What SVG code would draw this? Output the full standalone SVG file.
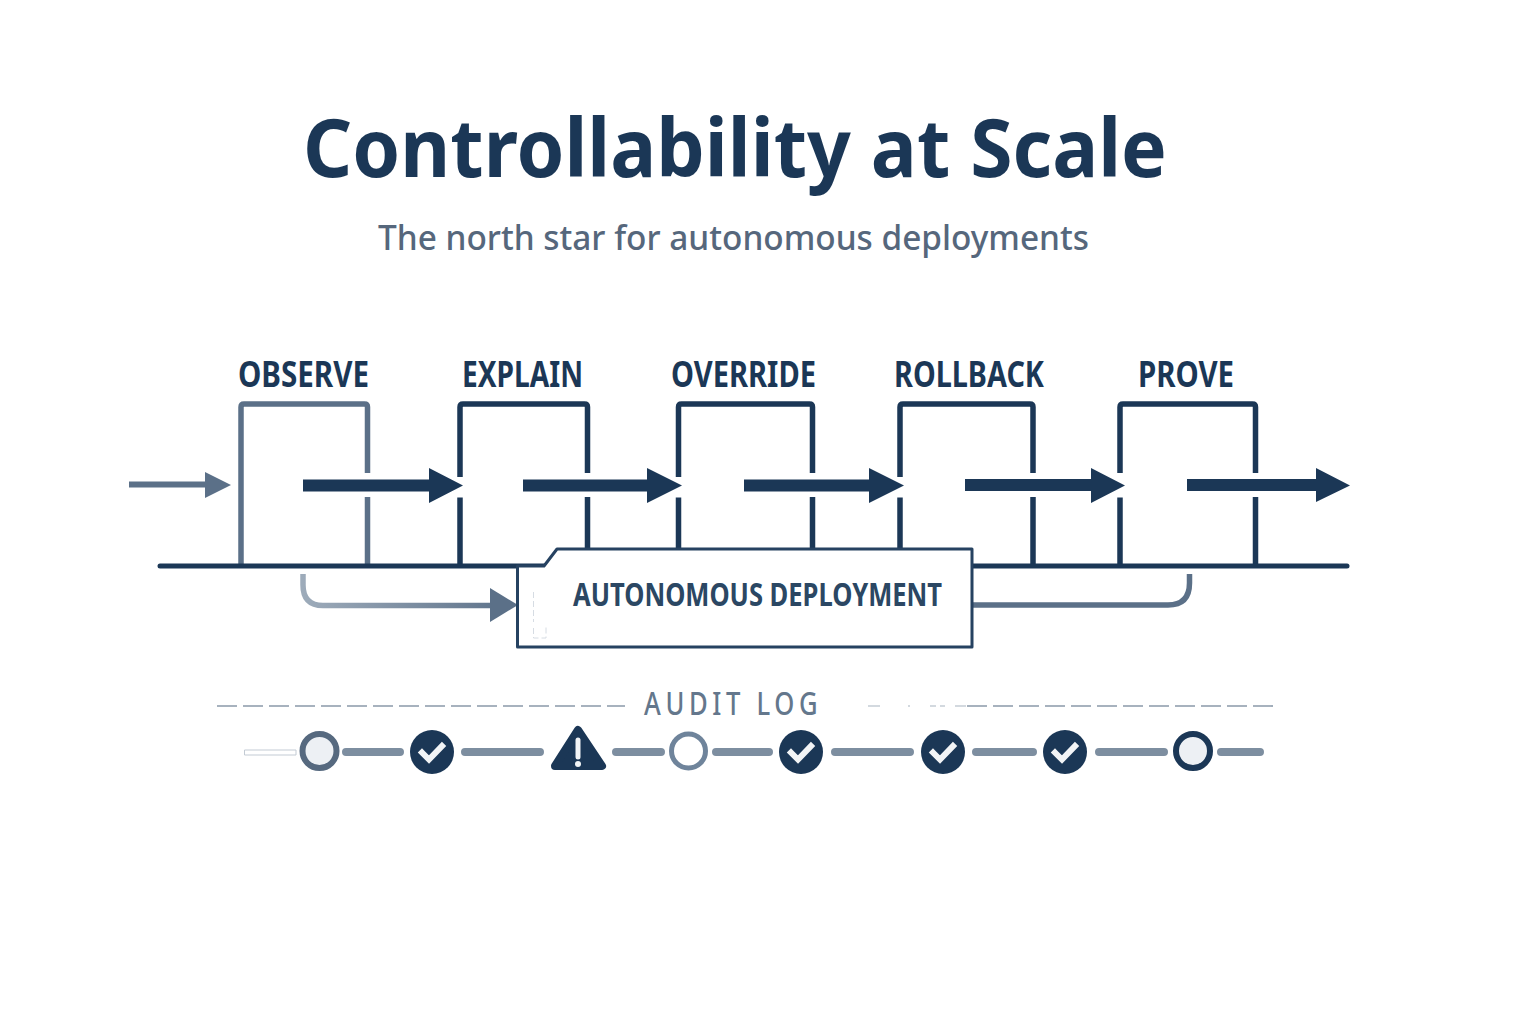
<svg xmlns="http://www.w3.org/2000/svg" width="1536" height="1024" viewBox="0 0 1536 1024">
<style>
text{font-family:"Noto Sans","Open Sans","Liberation Sans",sans-serif}
.title{font-size:81px;font-weight:700;fill:#1b3756}
.sub{font-size:35px;font-weight:500;fill:#56677c}
.lab{font-size:36px;font-weight:700;fill:#1b3756}
.dep{font-size:32px;font-weight:700;fill:#2b4763}
.aud{font-size:32px;font-weight:500;fill:#64778c}
.box{fill:none;stroke:#1b3756;stroke-width:5.500;stroke-linejoin:round}
.obs{stroke:#5b7088}
.shaft{fill:#1b3756}
.seg{stroke:#7d8ea0;stroke-width:8;stroke-linecap:round;fill:none}
.dash{stroke:#8a99a9;stroke-width:1.600;stroke-dasharray:20 6;fill:none}
.chk{fill:#1b3756}
.tick{fill:none;stroke:#f2f4f6;stroke-width:6;stroke-linecap:square;stroke-linejoin:miter}
</style>
<defs>
<linearGradient id="lg" gradientUnits="userSpaceOnUse" x1="303" y1="0" x2="520" y2="0"><stop offset="0" stop-color="#9dabba"/><stop offset="1" stop-color="#5b7088"/></linearGradient>
<g id="check"><circle r="22" class="chk"/><path class="tick" d="M-10 0.500L-3 7.500L10 -6"/></g>
</defs>
<text class="title" x="303" y="177" textLength="864" lengthAdjust="spacingAndGlyphs">Controllability at Scale</text>
<text class="sub" x="378" y="250" textLength="711" lengthAdjust="spacingAndGlyphs">The north star for autonomous deployments</text>
<g id="node-observe"><path class="box obs" d="M241 566V407Q241 404 244 404H364.500Q367.500 404 367.500 407V473M367.500 497V566"/><text class="lab" x="238" y="387" textLength="131" lengthAdjust="spacingAndGlyphs">OBSERVE</text></g>
<g id="node-explain"><path class="box" d="M460 477V407Q460 404 463 404H584.500Q587.500 404 587.500 407V473M587.500 497V566M460 497.500V566"/><text class="lab" x="462" y="387" textLength="121" lengthAdjust="spacingAndGlyphs">EXPLAIN</text></g>
<g id="node-override"><path class="box" d="M678.500 477V407Q678.500 404 681.500 404H809.500Q812.500 404 812.500 407V473M812.500 497V566M678.500 497.500V566"/><text class="lab" x="671" y="387" textLength="145" lengthAdjust="spacingAndGlyphs">OVERRIDE</text></g>
<g id="node-rollback"><path class="box" d="M900 477V407Q900 404 903 404H1030Q1033 404 1033 407V473M1033 497V566M900 497.500V566"/><text class="lab" x="894" y="387" textLength="150" lengthAdjust="spacingAndGlyphs">ROLLBACK</text></g>
<g id="node-prove"><path class="box" d="M1120 473V407Q1120 404 1123 404H1252.500Q1255.500 404 1255.500 407V473M1255.500 497V566M1120 497.500V566"/><text class="lab" x="1138" y="387" textLength="96" lengthAdjust="spacingAndGlyphs">PROVE</text></g>
<g id="connectors">
<path d="M160 566H1347" stroke="#1b3756" stroke-width="5" stroke-linecap="round" fill="none"/>
<path d="M129 481.500H205V472L231 485L205 498V487.500H129Z" fill="#5b7088"/>
<path class="shaft" d="M303 479.500H429V468L463 485.500L429 503V491.500H303Z"/>
<path class="shaft" d="M523 479.500H647V468L682 485.500L647 503V491.500H523Z"/>
<path class="shaft" d="M744 479.500H869V468L904 485.500L869 503V491.500H744Z"/>
<path class="shaft" d="M965 479H1091V468L1125 485.500L1091 503V491H965Z"/>
<path class="shaft" d="M1187 479H1316V468L1350 485.500L1316 502V491H1187Z"/>
<path d="M303 574V585Q303 605.500 323 605.500H495" fill="none" stroke="url(#lg)" stroke-width="5.500"/>
<path d="M490 588L518 605L490 622Z" fill="#5b7088"/>
<path d="M973 605H1168Q1189.500 605 1189.500 583V574" fill="none" stroke="#5b7088" stroke-width="5.500"/>
</g>
<g id="node-deployment">
<path d="M517.500 647V566H544L557 549H972V647Z" fill="#fff" stroke="#264261" stroke-width="3" stroke-linejoin="round"/>
<path d="M533.500 592V622M533.500 628V638H546V627" fill="none" stroke="#d6dce3" stroke-width="1" stroke-dasharray="6 3"/>
<text class="dep" x="573" y="606" textLength="369" lengthAdjust="spacingAndGlyphs">AUTONOMOUS DEPLOYMENT</text>
</g>
<g id="audit-log">
<path class="dash" d="M217 706H625"/>
<path class="dash" d="M967 706H1277"/>
<path d="M868 706H880M908 706H910M930 706H936M940 706H945M955 706H966" stroke="#a8b4c0" stroke-width="1.200" fill="none"/>
<text class="aud" transform="translate(644 715) scale(.8 1)" textLength="217" lengthAdjust="spacing">AUDIT LOG</text>
<path d="M244.500 750H296V755H244.500Z" fill="#fff" stroke="#c3cbd4" stroke-width="1"/>
<path class="seg" d="M346 752H400M465 752H540M616 752H661M716 752H769M835 752H910M976 752H1033M1099 752H1164M1221 752H1260"/>
<circle id="event-1" cx="319.500" cy="751" r="17" fill="#edf0f4" stroke="#56697f" stroke-width="6"/>
<use id="event-2" href="#check" x="432" y="752"/>
<g id="event-3"><path d="M578 730L602 766H555Z" fill="#1b3756" stroke="#1b3756" stroke-width="8" stroke-linejoin="round"/><path d="M578 740V757" stroke="#f2f4f6" stroke-width="5" stroke-linecap="round"/><circle cx="578" cy="764" r="3" fill="#f2f4f6"/></g>
<circle id="event-4" cx="688.500" cy="751" r="17" fill="#fff" stroke="#6f849b" stroke-width="5"/>
<use id="event-5" href="#check" x="801" y="752"/>
<use id="event-6" href="#check" x="943" y="752"/>
<use id="event-7" href="#check" x="1065" y="752"/>
<circle id="event-8" cx="1193" cy="751" r="17" fill="#edf0f4" stroke="#1b3756" stroke-width="6"/>
</g>
</svg>
